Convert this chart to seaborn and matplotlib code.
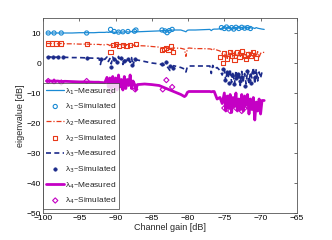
import numpy as np
import pandas as pd
import matplotlib
matplotlib.use("Agg")
import matplotlib.pyplot as plt
import seaborn as sns

# ---------------- data ----------------
gain_meas = [
    -99.5, -99.0, -98.5, -98.0, -97.5, -97.0, -96.0, -95.0, -94.0, -93.0,
    -92.3, -92.1, -91.9, -91.5, -91.2, -91.0, -90.8, -90.6, -90.4, -90.2,
    -90.0, -89.8, -89.6, -89.4, -89.2, -89.0, -88.8, -88.6, -88.4, -88.2,
    -88.0, -87.8, -87.6, -87.4, -87.2, -87.0, -86.0, -85.0, -84.0, -83.5,
    -83.0, -82.5, -82.0, -81.0, -80.5, -80.3, -80.1, -79.9, -79.0, -78.0,
    -77.0, -76.8, -76.6, -76.4, -76.0, -75.6, -75.3, -75.0, -74.8, -74.6,
    -74.4, -74.2, -74.0, -73.8, -73.6, -73.4, -73.2, -73.0, -72.8, -72.6,
    -72.4, -72.2, -72.0, -71.8, -71.6, -71.4, -71.2, -71.0, -70.8, -70.6,
    -70.4, -70.2, -70.0, -69.8, -69.5]

lam1_meas = [
    10.0, 10.0, 10.0, 10.0, 10.0, 10.0, 10.0, 10.1, 10.1, 10.1,
    10.2, 10.2, 10.2, 10.2, 10.3, 10.2, 10.3, 10.2, 10.4, 10.2,
    10.3, 10.2, 10.4, 10.2, 10.3, 10.3, 10.4, 10.3, 10.4, 10.3,
    10.4, 10.5, 10.3, 10.4, 10.5, 10.4, 10.5, 10.6, 10.7, 10.8,
    10.8, 10.9, 11.0, 11.0, 10.6, 10.4, 10.9, 11.0, 11.0, 11.1,
    11.2, 10.8, 11.2, 11.3, 11.3, 11.4, 11.6, 11.8, 11.5, 11.9,
    11.6, 11.9, 11.4, 11.8, 11.6, 11.9, 11.5, 11.8, 11.6, 11.9,
    11.5, 11.8, 11.6, 11.9, 11.5, 11.8, 11.6, 11.7, 11.5, 11.8,
    11.6, 11.5, 11.4, 11.3, 11.2]

lam2_meas = [
    6.5, 6.5, 6.5, 6.4, 6.5, 6.4, 6.4, 6.3, 6.3, 6.2,
    6.2, 6.1, 6.2, 6.0, 6.2, 6.1, 5.8, 6.3, 5.7, 6.2,
    6.0, 6.3, 5.8, 6.2, 5.9, 6.1, 6.0, 5.8, 6.1, 5.9,
    6.0, 5.8, 6.1, 5.7, 6.0, 5.8, 5.7, 5.5, 5.3, 5.0,
    5.2, 4.8, 5.0, 4.9, 4.6, 2.2, 4.8, 5.0, 4.8, 4.8,
    4.7, 4.6, 4.2, 4.7, 4.3, 4.0, 3.0, 2.0, 3.8, 1.5,
    3.5, 2.5, 4.0, 1.8, 3.7, 2.8, 1.5, 4.0, 2.2, 3.5,
    1.8, 3.8, 2.5, 1.5, 3.6, 2.0, 4.0, 1.6, 3.4, 2.2,
    3.8, 1.9, 3.2, 3.6, 3.5]

lam3_meas = [
    2.0, 2.0, 2.0, 1.9, 2.0, 1.9, 1.8, 1.8, 1.7, 1.6,
    1.6, -0.5, 1.5, 1.2, 2.0, 0.5, 1.5, -0.3, 2.0, 0.8,
    1.6, 0.0, 2.2, 0.6, 1.8, -0.5, 1.5, 0.4, 1.2, 1.6,
    0.2, 1.8, -1.0, 1.2, 0.8, 1.0, 0.5, 0.0, -0.3, -0.6,
    -0.8, -2.5, -0.9, -1.5, -2.0, -3.0, -1.2, -1.0, -1.0, -1.0,
    -1.0, -3.5, -0.8, -2.0, -1.5, -2.5, -4.0, -2.0, -6.0, -2.5,
    -5.0, -2.0, -6.5, -3.0, -7.0, -2.5, -5.5, -3.0, -7.5, -2.8,
    -6.0, -3.5, -7.0, -2.5, -6.5, -3.0, -5.0, -1.5, -7.0, -2.0,
    -6.0, -3.0, -5.0, -3.0, -3.0]

lam4_meas = [
    -6.0, -6.0, -6.1, -6.0, -6.2, -6.1, -6.2, -6.3, -6.3, -6.4,
    -6.4, -6.5, -6.5, -6.6, -4.8, -8.0, -5.0, -8.5, -4.5, -8.0,
    -5.0, -9.0, -4.0, -8.0, -5.5, -9.0, -4.5, -8.5, -5.5, -7.5,
    -4.0, -8.5, -6.0, -7.0, -9.0, -7.2, -7.0, -7.2, -7.5, -8.0,
    -8.5, -9.0, -9.5, -10.5, -11.2, -10.8, -9.8, -9.5, -9.5, -9.5,
    -9.5, -9.6, -9.5, -9.5, -12.0, -11.5, -13.5, -10.0, -16.0, -11.0,
    -15.0, -10.5, -16.5, -11.5, -14.5, -10.0, -16.0, -12.0, -15.5, -10.5,
    -16.0, -11.0, -14.0, -10.5, -17.0, -12.0, -15.5, -11.5, -19.0, -13.0,
    -16.0, -12.0, -17.0, -12.5, -12.5]

lam1_sim_x = [-99.3, -98.5, -97.5, -94.0,
              -90.7, -90.2, -89.6, -89.0, -88.3, -87.4, -87.2,
              -83.6, -83.2, -82.9, -82.6, -82.2,
              -75.4, -75.0, -74.7, -74.4, -74.0, -73.7, -73.4, -73.0,
              -72.6, -72.2, -71.8, -71.4]
lam1_sim_y = [10.0, 10.0, 10.0, 10.0,
              11.2, 10.5, 10.3, 10.4, 10.5, 10.6, 11.0,
              11.0, 10.7, 10.1, 10.8, 11.2,
              11.8, 11.5, 12.0, 11.4, 11.8, 11.3, 11.9, 11.5,
              11.9, 11.6, 11.8, 11.5]

lam2_sim_x = [-99.3, -98.8, -98.2, -97.5, -94.0,
              -90.7, -90.4, -90.0, -89.5, -89.0, -88.5, -88.0, -87.2,
              -83.6, -83.3, -83.0, -82.7, -82.4, -82.1,
              -75.6, -75.2, -75.0, -74.6, -74.2, -73.9, -73.6, -73.2,
              -72.9, -72.6, -72.3, -72.0, -71.7, -71.3, -71.0, -70.6]
lam2_sim_y = [6.5, 6.5, 6.5, 6.5, 6.3,
              3.7, 6.0, 6.2, 5.8, 6.1, 5.8, 6.0, 6.2,
              4.3, 4.6, 5.0, 4.2, 5.5, 3.8,
              2.0, 0.0, 3.2, 1.5, 3.8, 2.5, 1.0, 3.5,
              2.0, 3.9, 2.2, 1.2, 3.0, 2.5, 3.5, 1.8]

lam3_sim_x = [-99.3, -98.7, -98.0, -97.3, -94.0, -92.0,
              -90.7, -90.2, -89.8, -89.3, -88.8, -88.3, -87.8, -87.3,
              -83.6, -83.0, -82.5, -82.1,
              -75.2, -74.9, -74.6, -74.3, -74.0, -73.7, -73.4, -73.1,
              -72.8, -72.5, -72.2, -71.9, -71.6, -71.3, -71.0, -70.7]
lam3_sim_y = [2.0, 2.0, 2.0, 2.0, 1.8, 1.5,
              -1.2, 1.5, 0.5, 1.8, 0.8, 1.2, -0.8, 1.5,
              -0.4, 0.2, -1.0, -1.5,
              -2.0, -5.5, -3.0, -6.5, -4.0, -7.0, -5.0, -3.5,
              -6.0, -4.5, -7.5, -2.5, -5.5, -6.5, -3.0, -4.5]

lam4_sim_x = [-99.3, -98.5, -97.5, -94.0, -90.7, -87.3, -83.5, -83.0, -82.2,
              -75.0, -74.6, -74.2, -73.8, -73.4, -73.0, -72.6, -72.2, -71.8]
lam4_sim_y = [-6.0, -6.2, -6.5, -6.0, -9.3, -8.8, -8.8, -5.7, -8.0,
              -15.0, -14.5, -16.0, -13.5, -15.0, -14.0, -16.0, -15.0, -14.5]

x_ticks = [-100, -95, -90, -85, -80, -75, -70, -65]
y_ticks = [-50, -40, -30, -20, -10, 0, 10]

# ---------------- style ----------------
sns.set_style("white")
plt.rcParams['font.family'] = ['Liberation Sans', 'DejaVu Sans']
plt.rcParams['mathtext.fontset'] = 'dejavusans'

c1 = '#1a8ad4'
c2 = '#e8391a'
c3 = '#1b2a8a'
c4 = '#c400c4'

fig = plt.figure(figsize=(3.32, 2.40), dpi=100)
ax = fig.add_axes([0.13, 0.1125, 0.764, 0.8125])

meas = pd.DataFrame({'gain': gain_meas, 'l1': lam1_meas, 'l2': lam2_meas,
                     'l3': lam3_meas, 'l4': lam4_meas})

series = [
    ('l1', c1, '-', 0.9, lam1_sim_x, lam1_sim_y, 'o', True),
    ('l2', c2, (0, (4, 1.5, 1, 1.5)), 0.9, lam2_sim_x, lam2_sim_y, 's', True),
    ('l3', c3, (0, (3, 2)), 1.2, lam3_sim_x, lam3_sim_y, 'o', False),
    ('l4', c4, '-', 2.0, lam4_sim_x, lam4_sim_y, 'D', True),
]

handles = []
labels = []
for i, (col, color, ls, lw, sx, sy, mk, hollow) in enumerate(series):
    sns.lineplot(data=meas, x='gain', y=col, ax=ax, color=color, linewidth=lw,
                 linestyle=ls, sort=False, estimator=None, legend=False)
    line = ax.lines[-1]
    sdf = pd.DataFrame({'x': sx, 'y': sy})
    if hollow:
        sz = 9 if mk != 'D' else 7
        sns.scatterplot(data=sdf, x='x', y='y', ax=ax, marker=mk, s=sz,
                        facecolors='none', edgecolor=color, linewidth=0.8,
                        legend=False)
    else:
        sns.scatterplot(data=sdf, x='x', y='y', ax=ax, marker=mk, s=6,
                        color=color, edgecolor=color, linewidth=0.5,
                        legend=False)
    sc = ax.collections[-1]
    handles += [line, sc]
    labels += ['λ$_{%d}$–Measured' % (i + 1), 'λ$_{%d}$–Simulated' % (i + 1)]

ax.set_xlim(-100, -65)
ax.set_ylim(-50, 15)
ax.set_xticks(x_ticks)
ax.set_yticks(y_ticks)
ax.set_xticklabels(['\u2212%d' % abs(v) for v in x_ticks])
ax.set_yticklabels([('\u2212%d' % abs(v)) if v < 0 else str(v) for v in y_ticks])
ax.tick_params(direction='in', length=2.5, width=0.5, labelsize=6,
               top=True, right=True, pad=1.5, colors='#333333',
               labelcolor='black')
for sp in ax.spines.values():
    sp.set_color('#555555')
    sp.set_linewidth(0.6)
ax.set_xlabel('Channel gain [dB]', fontsize=6.5, labelpad=0.5)
ax.set_ylabel('eigenvalue [dB]', fontsize=6.5, labelpad=1)

leg = ax.legend(handles, labels, loc='lower left', bbox_to_anchor=(0.0, 0.02),
                fontsize=6, frameon=True, fancybox=False, borderpad=0.35,
                labelspacing=0.62, handlelength=2.2, handletextpad=0.1,
                borderaxespad=0.0, scatterpoints=1)
leg.get_frame().set_edgecolor('#333333')
leg.get_frame().set_linewidth(0.6)

fig.savefig('out.png', dpi=100)
